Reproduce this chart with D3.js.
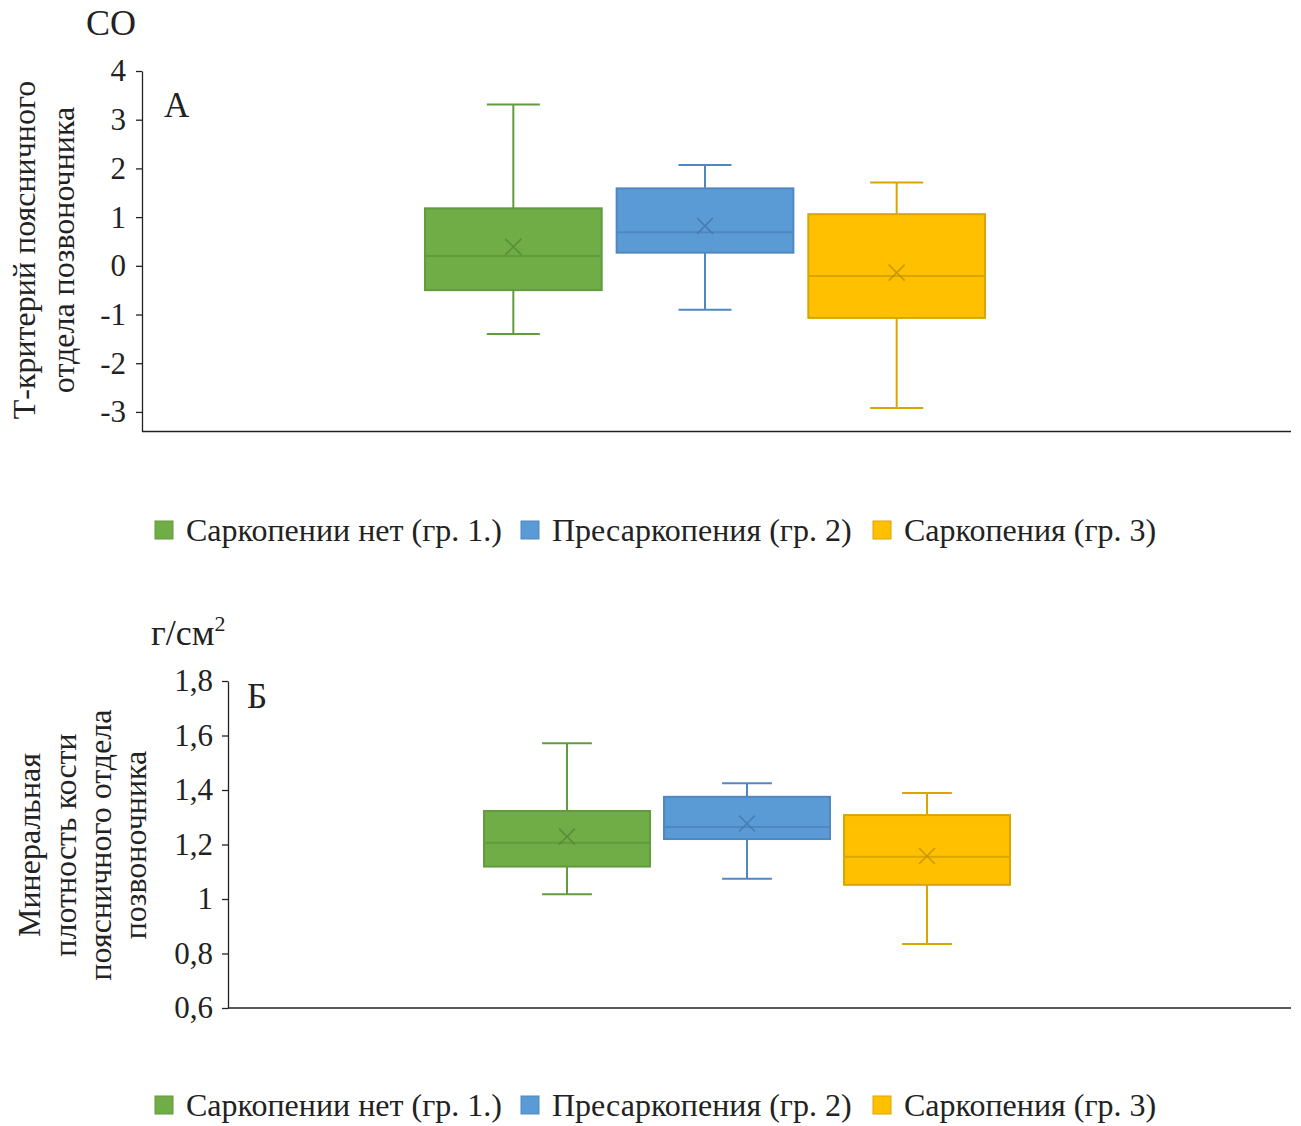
<!DOCTYPE html>
<html>
<head>
<meta charset="utf-8">
<script src="https://cdn.jsdelivr.net/npm/d3@7"></script>
<style>
  html, body { margin: 0; padding: 0; background: #fff; }
  svg text { font-family: "Liberation Serif", "Times New Roman", serif; fill: #222; }
</style>
</head>
<body>
<svg id="chart" width="1301" height="1126"></svg>
<script>
// ---------- data ----------
const groups = ["Саркопении нет (гр. 1.)", "Пресаркопения (гр. 2)", "Саркопения (гр. 3)"];
const fillColors = ["#70AD47", "#5B9BD5", "#FFC000"];
const lineColors = ["#629A3E", "#4F88C1", "#D9A600"];

// Panel A: T-score lumbar spine (СО)
const tMin    = [-1.40, -0.90, -2.92];
const tQ1     = [-0.50,  0.27, -1.07];
const tMedian = [ 0.20,  0.69, -0.21];
const tQ3     = [ 1.18,  1.59,  1.06];
const tMax    = [ 3.31,  2.07,  1.71];
const tMean   = [ 0.39,  0.82, -0.14];
const tTicks  = [-3, -2, -1, 0, 1, 2, 3, 4];
const tTickLabels = ["-3", "-2", "-1", "0", "1", "2", "3", "4"];

// Panel Б: bone mineral density lumbar spine (г/см2)
const bMin    = [1.017, 1.074, 0.835];
const bQ1     = [1.119, 1.220, 1.052];
const bMedian = [1.206, 1.264, 1.155];
const bQ3     = [1.323, 1.375, 1.308];
const bMax    = [1.572, 1.425, 1.389];
const bMean   = [1.229, 1.277, 1.158];
const bTicks  = [0.6, 0.8, 1.0, 1.2, 1.4, 1.6, 1.8];
const bTickLabels = ["0,6", "0,8", "1", "1,2", "1,4", "1,6", "1,8"];

// ---------- drawing ----------
const svg = d3.select("#chart");
const SERIF = '"Liberation Serif", "Times New Roman", serif';

function drawPanel(cfg) {
  const g = svg.append("g");
  const y = d3.scaleLinear().domain(cfg.domain).range([cfg.bottom, cfg.top]);
  const x = d3.scaleBand().domain(groups).range(cfg.bandRange)
              .paddingInner(0.078).paddingOuter(0.039);

  // y axis
  const yAxis = d3.axisLeft(y)
    .tickValues(cfg.ticks)
    .tickFormat((d, i) => cfg.tickLabels[i])
    .tickSizeInner(6).tickSizeOuter(0).tickPadding(cfg.tickPad);
  const ax = g.append("g").attr("transform", `translate(${cfg.left},0)`).call(yAxis);
  ax.attr("font-family", null);
  ax.select(".domain").attr("stroke", "#222").attr("stroke-width", 1.3);
  ax.selectAll(".tick line").attr("stroke", "#222").attr("stroke-width", 1.3);
  ax.selectAll(".tick text")
    .attr("fill", "#333")
    .style("font-family", SERIF)
    .style("font-size", cfg.tickFont + "px");

  // x axis line
  g.append("line")
    .attr("x1", cfg.left).attr("x2", cfg.right)
    .attr("y1", y(cfg.domain[0])).attr("y2", y(cfg.domain[0]))
    .attr("stroke", "#222").attr("stroke-width", 1.5);

  const bw = x.bandwidth();
  const capW = bw * 0.3;

  groups.forEach((name, i) => {
    const cx = x(name) + bw / 2;
    const stroke = lineColors[i];
    const box = g.append("g");
    // whiskers
    box.append("line").attr("x1", cx).attr("x2", cx)
      .attr("y1", y(cfg.max[i])).attr("y2", y(cfg.q3[i]))
      .attr("stroke", stroke).attr("stroke-width", 2);
    box.append("line").attr("x1", cx).attr("x2", cx)
      .attr("y1", y(cfg.q1[i])).attr("y2", y(cfg.min[i]))
      .attr("stroke", stroke).attr("stroke-width", 2);
    // caps
    [cfg.max[i], cfg.min[i]].forEach(v => {
      box.append("line").attr("x1", cx - capW / 2).attr("x2", cx + capW / 2)
        .attr("y1", y(v)).attr("y2", y(v))
        .attr("stroke", stroke).attr("stroke-width", 2);
    });
    // box
    box.append("rect")
      .attr("x", x(name)).attr("width", bw)
      .attr("y", y(cfg.q3[i])).attr("height", y(cfg.q1[i]) - y(cfg.q3[i]))
      .attr("fill", fillColors[i]).attr("stroke", stroke).attr("stroke-width", 2);
    // median
    box.append("line").attr("x1", x(name)).attr("x2", x(name) + bw)
      .attr("y1", y(cfg.median[i])).attr("y2", y(cfg.median[i]))
      .attr("stroke", stroke).attr("stroke-width", 2);
    // mean marker X
    const my = y(cfg.mean[i]);
    const hs = 8;
    box.append("path")
      .attr("d", `M${cx - hs},${my - hs}L${cx + hs},${my + hs}M${cx - hs},${my + hs}L${cx + hs},${my - hs}`)
      .attr("stroke", d3.color(stroke).darker(0.4)).attr("stroke-width", 1.6)
      .attr("fill", "none").attr("opacity", 0.8);
  });

  // y axis title (rotated, multi-line)
  cfg.yTitle.forEach((line, k) => {
    g.append("text")
      .attr("transform", `translate(${cfg.yTitleX[k]},${cfg.yTitleY}) rotate(-90)`)
      .attr("text-anchor", "middle")
      .attr("fill", "#333")
      .style("font-family", SERIF)
      .style("font-size", cfg.yTitleFont + "px")
      .text(line);
  });

  // unit label
  const unit = g.append("text")
    .attr("x", cfg.unitX).attr("y", cfg.unitY)
    .style("font-family", SERIF)
    .style("font-size", cfg.unitFont + "px").attr("fill", "#111");
  unit.append("tspan").text(cfg.unit);
  if (cfg.unitSup) {
    unit.append("tspan").attr("dy", -14).style("font-size", "22px").text(cfg.unitSup);
  }

  // panel letter
  g.append("text").attr("x", cfg.letterX).attr("y", cfg.letterY)
    .style("font-family", SERIF)
    .style("font-size", "35px").attr("fill", "#111").text(cfg.letter);

  // legend
  const legX = [155, 521, 873];
  groups.forEach((name, i) => {
    g.append("rect")
      .attr("x", legX[i]).attr("y", cfg.legendY - 10)
      .attr("width", 18).attr("height", 18)
      .attr("fill", fillColors[i]).attr("stroke", lineColors[i]).attr("stroke-width", 1);
    g.append("text")
      .attr("x", legX[i] + 31).attr("y", cfg.legendY + 10)
      .style("font-family", SERIF)
      .style("font-size", "32px").attr("fill", "#222")
      .text(name);
  });
}

drawPanel({
  domain: [-3.4, 4], top: 71, bottom: 431.4,
  left: 142, right: 1291,
  bandRange: [417.5, 992.5],
  ticks: tTicks, tickLabels: tTickLabels, tickFont: 31, tickPad: 10,
  min: tMin, q1: tQ1, median: tMedian, q3: tQ3, max: tMax, mean: tMean,
  yTitle: ["Т-критерий поясничного", "отдела позвоночника"],
  yTitleX: [35, 74], yTitleY: 250, yTitleFont: 32,
  unit: "СО", unitSup: null, unitX: 86, unitY: 35, unitFont: 36,
  letter: "А", letterX: 164, letterY: 117,
  legendY: 531
});

drawPanel({
  domain: [0.6, 1.8], top: 681, bottom: 1008,
  left: 228, right: 1291,
  bandRange: [477, 1017],
  ticks: bTicks, tickLabels: bTickLabels, tickFont: 31, tickPad: 9,
  min: bMin, q1: bQ1, median: bMedian, q3: bQ3, max: bMax, mean: bMean,
  yTitle: ["Минеральная", "плотность кости", "поясничного отдела", "позвоночника"],
  yTitleX: [40, 76, 111, 146], yTitleY: 845, yTitleFont: 32,
  unit: "г/см", unitSup: "2", unitX: 151, unitY: 645, unitFont: 36,
  letter: "Б", letterX: 247, letterY: 708,
  legendY: 1106
});
</script>
</body>
</html>
